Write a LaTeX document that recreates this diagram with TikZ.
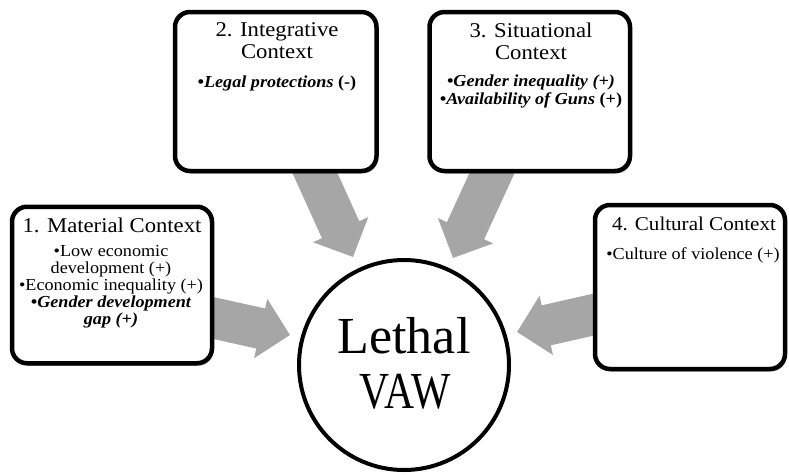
\documentclass[tikz,border=0pt]{standalone}
\usepackage{fontspec}
\setmainfont{Liberation Serif}[FakeStretch=1.08]
\newfontfamily\bigfont{Liberation Serif}
\newfontfamily\bignarrow{Liberation Serif}[FakeStretch=0.8]
\usetikzlibrary{arrows.meta,shadows}
\definecolor{arrowgray}{RGB}{166,166,166}
\pgfdeclarelayer{background}
\pgfsetlayers{background,main}
\begin{document}
\begin{tikzpicture}[x=1pt,y=-1pt,
  ctxbox/.style={draw=black, line width=4.5pt, fill=white, rounded corners=15pt, inner sep=0pt,
    drop shadow={shadow xshift=1.5pt, shadow yshift=-2.5pt, opacity=0.3, fill=black}},
  titletext/.style={inner sep=0pt, align=center, font=\fontsize{21}{22}\selectfont},
  itemtext/.style={inner sep=0pt, align=center, font=\fontsize{16.8}{17}\selectfont},
  bigarrow/.style={draw=arrowgray, line width=41pt, -{Triangle[length=30pt,width=59pt]}},
  bigtext/.style={inner sep=0pt, anchor=base}
]
\useasboundingbox (0,0) rectangle (789,474);

% boxes
\node[ctxbox, minimum width=200pt, minimum height=156.5pt] (b1) at (112,285) {};
\node[ctxbox, minimum width=201.5pt, minimum height=159pt] (b2) at (275.75,91.5) {};
\node[ctxbox, minimum width=200.5pt, minimum height=159pt] (b3) at (529.75,91.5) {};
\node[ctxbox, minimum width=190pt, minimum height=164pt] (b4) at (690,287) {};
\node[circle, draw=black, line width=4pt, fill=white, minimum size=210pt, inner sep=0pt] (vaw) at (404,365) {};

% texts
\node[titletext, anchor=base] (h1) at (112,232) {1. Material Context};
\node[itemtext, anchor=north] (l1) at (111,245.5) {•Low economic\\development (+)\\•Economic inequality (+)\\{\bfseries\itshape •Gender development}\\{\bfseries\itshape gap (+)}};

\node[titletext, anchor=north] (h2) at (277,22.7) {2. Integrative\\Context};
\node[itemtext, anchor=base] (l2) at (277,87) {{\bfseries\itshape •Legal protections} {\bfseries (-)}};

\node[titletext, anchor=north] (h3) at (531,22.7) {3. Situational\\Context};
\node[itemtext, anchor=north, font=\fontsize{16.8}{18}\selectfont] (l3) at (531,74.3) {{\bfseries\itshape •Gender inequality (+)}\\{\bfseries\itshape •Availability of Guns} {\bfseries (+)}};

\node[titletext, anchor=base, font=\fontsize{19.5}{22}\selectfont] (h4) at (694,230) {4. Cultural Context};
\node[itemtext, anchor=base] (l4) at (693,259) {•Culture of violence (+)};

\node[bigtext, font=\bigfont\fontsize{52}{52}\selectfont] (lt) at (404,353) {Lethal};
\node[bigtext, font=\bignarrow\fontsize{52}{52}\selectfont] (vt) at (405,408) {VAW};

% arrow endpoints
\coordinate (s1) at (200,315);
\coordinate (t1) at (290,335);
\coordinate (s2) at (309,160);
\coordinate (t2) at (353,257);
\coordinate (s3) at (498,160);
\coordinate (t3) at (453,258);
\coordinate (s4) at (605,312);
\coordinate (t4) at (517,332);

\begin{pgfonlayer}{background}
\draw[bigarrow] (s1) -- (t1);
\draw[bigarrow] (s2) -- (t2);
\draw[bigarrow] (s3) -- (t3);
\draw[bigarrow] (s4) -- (t4);
\end{pgfonlayer}
\end{tikzpicture}
\end{document}
